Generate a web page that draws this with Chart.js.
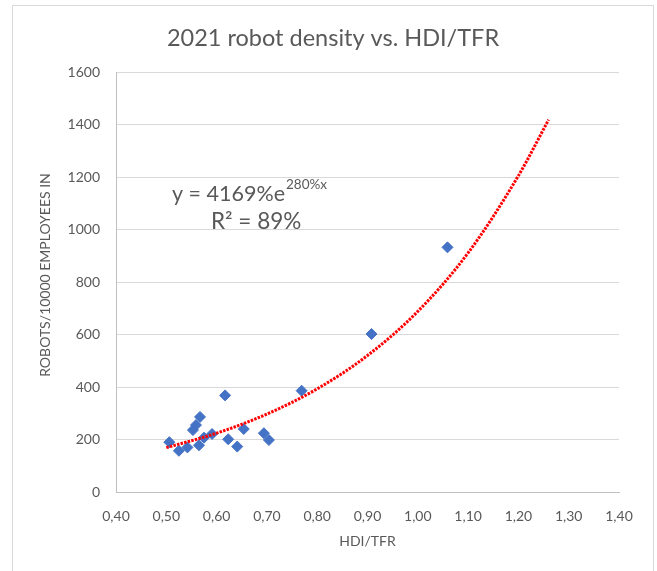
<!DOCTYPE html>
<html>
<head>
<meta charset="utf-8">
<script src="https://cdn.jsdelivr.net/npm/chart.js@4/dist/chart.umd.min.js"></script>
<style>
  html, body { margin: 0; padding: 0; background: #fff; }
  #wrap { position: relative; width: 657px; height: 571px; }
</style>
</head>
<body>
<div id="wrap"><canvas id="robotChart" width="657" height="571"></canvas></div>
<script>
/* DATA */
let chart_title = "2021 robot density vs. HDI/TFR";
let x_axis_title = "HDI/TFR";
let y_axis_title = "ROBOTS/10000 EMPLOYEES IN";

// scatter points (HDI/TFR, robots per 10000 employees)
let hdi_tfr = [0.506, 0.525, 0.542, 0.553, 0.559, 0.567, 0.565, 0.575, 0.591, 0.617, 0.623, 0.641, 0.654, 0.694, 0.704, 0.769, 0.908, 1.059];
let robot_density = [190, 157, 170, 236, 255, 286, 178, 207, 221, 368, 201, 173, 240, 224, 198, 386, 602, 932];

// exponential trendline
let trend_x = [0.50, 0.60, 0.70, 0.80, 0.90, 1.00, 1.10, 1.20, 1.26];
let trend_y = [169, 224, 297, 393, 520, 688, 911, 1205, 1418];

// trendline label
let eq_main = "y = 4169%e";
let eq_sup = "280%x";
let eq_r2 = "R² = 89%";

/* CHART SETTING */
const FONT = "Lato, 'Open Sans', sans-serif";
const TEXT_COLOR = "#595959";

const scatter_points = hdi_tfr.map((v, i) => ({ x: v, y: robot_density[i] }));
const trend_points = trend_x.map((v, i) => ({ x: v, y: trend_y[i] }));

// draws frame, title, axis titles and trendline label
const decorPlugin = {
  id: "decor",
  beforeDraw(chart) {
    const ctx = chart.ctx;
    ctx.save();
    ctx.strokeStyle = "#d9d9d9";
    ctx.lineWidth = 1;
    ctx.strokeRect(12.5, 5.5, 641, 580);
    ctx.restore();
  },
  afterDraw(chart) {
    const ctx = chart.ctx;
    const area = chart.chartArea;
    ctx.save();
    ctx.fillStyle = TEXT_COLOR;
    ctx.textBaseline = "middle";

    // title
    ctx.font = "23.5px " + FONT;
    ctx.textAlign = "center";
    ctx.fillText(chart_title, 333, 38);

    // x axis title
    ctx.font = "14px " + FONT;
    ctx.fillText(x_axis_title, (area.left + area.right) / 2, 541);

    // y axis title
    ctx.save();
    ctx.translate(45, 275);
    ctx.rotate(-Math.PI / 2);
    ctx.fillText(y_axis_title, 0, 0);
    ctx.restore();

    // trendline equation
    ctx.textAlign = "left";
    ctx.font = "21.5px " + FONT;
    ctx.fillText(eq_main, 172, 194);
    const w = ctx.measureText(eq_main).width;
    ctx.font = "13.5px " + FONT;
    ctx.fillText(eq_sup, 172 + w + 1, 185);
    ctx.font = "22.5px " + FONT;
    ctx.fillText(eq_r2, 211, 222);
    ctx.restore();
  }
};

const chart_dom = document.getElementById("robotChart").getContext("2d");

const robotChart = new Chart(chart_dom, {
  type: "scatter",
  data: {
    datasets: [
      { // trendline (index 0 so it is drawn on top)
        label: "trend",
        data: trend_points,
        showLine: true,
        borderColor: "#ff0000",
        borderWidth: 3,
        borderDash: [2.5, 1.2],
        pointRadius: 0,
        cubicInterpolationMode: "monotone",
        fill: false
      },
      {
        label: "robots",
        data: scatter_points,
        pointStyle: "rectRot",
        pointRadius: 5.5,
        pointHoverRadius: 5.5,
        backgroundColor: "#4472c4",
        borderColor: "#4472c4",
        borderWidth: 1
      }
    ]
  },
  options: {
    responsive: false,
    animation: false,
    events: [],
    layout: { padding: { left: 0, top: 72, right: 38, bottom: 0 } },
    plugins: {
      legend: { display: false },
      title: { display: false },
      tooltip: { enabled: false }
    },
    scales: {
      x: {
        type: "linear",
        min: 0.4,
        max: 1.4,
        ticks: {
          stepSize: 0.1,
          color: TEXT_COLOR,
          font: { family: FONT, size: 14 },
          padding: 16,
          maxRotation: 0,
          callback: v => v.toFixed(2).replace(".", ",")
        },
        grid: { display: false, drawTicks: false },
        border: { display: true, color: "#bfbfbf", width: 1 },
        afterFit: s => { s.height = 79; }
      },
      y: {
        min: 0,
        max: 1600,
        ticks: {
          stepSize: 200,
          color: TEXT_COLOR,
          font: { family: FONT, size: 14 },
          padding: 16,
          callback: v => String(v)
        },
        grid: { color: "#d9d9d9", drawTicks: false },
        border: { display: true, color: "#bfbfbf", width: 1 },
        afterFit: s => { s.width = 116; }
      }
    }
  },
  plugins: [decorPlugin]
});
</script>
</body>
</html>
